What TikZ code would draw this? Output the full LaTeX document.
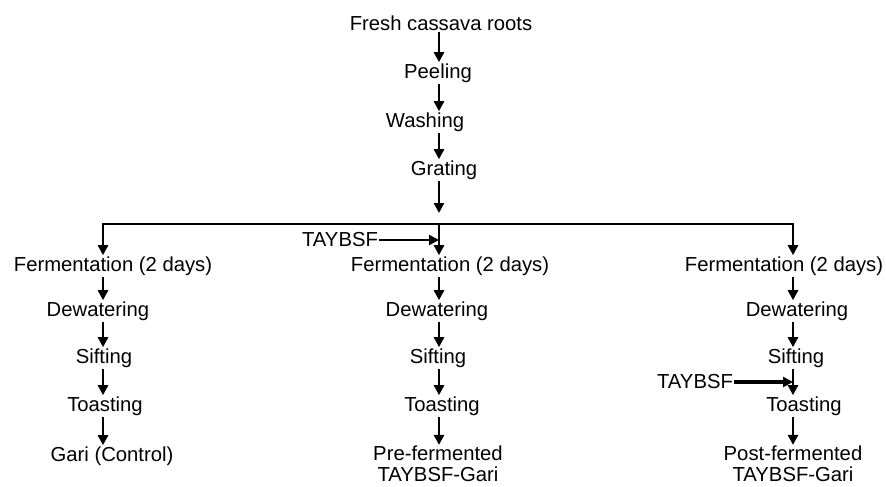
\documentclass[tikz,border=0pt]{standalone}
\usepackage{fontspec}
\setmainfont{Liberation Sans}
\usetikzlibrary{arrows.meta,positioning,calc}
\tikzset{step box/.style={draw=none, fill=none, align=center, inner sep=1pt, outer sep=0pt, font=\fontsize{15.2}{15.5}\selectfont}}
\tikzset{arr/.style={-{Triangle[width=7.5pt,length=7.5pt]}, line width=2pt}}
\tikzset{ln/.style={line width=2pt}}
\tikzset{addarr/.style={-{Triangle[width=7.5pt,length=7.5pt]}, line width=1.8pt}}

\begin{document}
\begin{tikzpicture}[x=0.75pt, y=-0.75pt]
        \useasboundingbox (0,0) rectangle (886,486);

        %%% COLUMN LINES %%%
        \coordinate (cM) at (439,0);
        \coordinate (cL) at (103,0);
        \coordinate (cR) at (793,0);

        %%% COMMON STEPS %%%
        \node[step box] (fresh) at (441,23) {Fresh cassava roots};
        \node[step box] (peel) at (438,73) {Peeling};
        \node[step box] (wash) at (425,122) {Washing};
        \node[step box] (grate) at (444,170) {Grating};
        \coordinate (split) at (439,224);
        \coordinate (brL) at (103,224);
        \coordinate (brR) at (793,224);

        %%% LEFT: CONTROL %%%
        \node[step box] (fermL) at (113,266) {Fermentation (2 days)};
        \node[step box] (dewL) at (98,311) {Dewatering};
        \node[step box] (siftL) at (104,358) {Sifting};
        \node[step box] (toastL) at (105,406) {Toasting};
        \node[step box] (gariL) at (112,456) {Gari (Control)};

        %%% MIDDLE: PRE-FERMENTED %%%
        \node[step box] (addM) at (340,240) {TAYBSF};
        \node[step box] (fermM) at (450,266) {Fermentation (2 days)};
        \node[step box] (dewM) at (437,311) {Dewatering};
        \node[step box] (siftM) at (438,358) {Sifting};
        \node[step box] (toastM) at (442,406) {Toasting};
        \node[step box] (gariM) at (438,464) {Pre-fermented\\TAYBSF-Gari};

        %%% RIGHT: POST-FERMENTED %%%
        \node[step box] (fermR) at (784,266) {Fermentation (2 days)};
        \node[step box] (dewR) at (797,311) {Dewatering};
        \node[step box] (siftR) at (796,358) {Sifting};
        \node[step box] (addR) at (695,382) {TAYBSF};
        \node[step box] (toastR) at (804,406) {Toasting};
        \node[step box] (gariR) at (793,464) {Post-fermented\\TAYBSF-Gari};

        %%% ARROWS %%%
        \draw[arr] (fresh.south -| cM) -- (peel.north -| cM);
        \draw[arr] (peel.south -| cM) -- (wash.north -| cM);
        \draw[arr] (wash.south -| cM) -- (grate.north -| cM);
        \draw[arr] (grate.south -| cM) -- ($(split)+(0,-11)$);
        \draw[ln] ($(brL)+(-1,0)$) -- ($(brR)+(1,0)$);
        \draw[arr] (brL) -- (fermL.north -| cL);
        \draw[arr] (split) -- (fermM.north -| cM);
        \draw[arr] (brR) -- (fermR.north -| cR);

        \draw[arr] (fermL.south -| cL) -- (dewL.north -| cL);
        \draw[arr] (dewL.south -| cL) -- (siftL.north -| cL);
        \draw[arr] (siftL.south -| cL) -- (toastL.north -| cL);
        \draw[arr] (toastL.south -| cL) -- (gariL.north -| cL);

        \draw[addarr] (addM.east) -- (addM.east -| cM);
        \draw[arr] (fermM.south -| cM) -- (dewM.north -| cM);
        \draw[arr] (dewM.south -| cM) -- (siftM.north -| cM);
        \draw[arr] (siftM.south -| cM) -- (toastM.north -| cM);
        \draw[arr] (toastM.south -| cM) -- (gariM.north -| cM);

        \draw[arr] (fermR.south -| cR) -- (dewR.north -| cR);
        \draw[arr] (dewR.south -| cR) -- (siftR.north -| cR);
        \draw[arr] (siftR.south -| cR) -- (toastR.north -| cR);
        \draw[addarr, line width=2.6pt] (addR.east) -- (addR.east -| cR);
        \draw[arr] (toastR.south -| cR) -- (gariR.north -| cR);
    \end{tikzpicture}
\end{document}
